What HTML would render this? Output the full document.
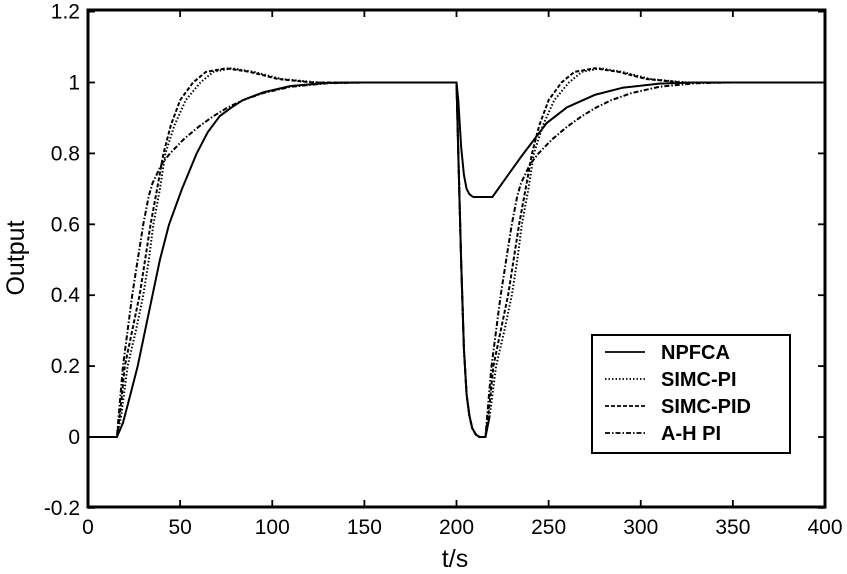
<!DOCTYPE html>
<html><head><meta charset="utf-8"><style>
body{margin:0;background:#fff;}
svg{display:block;font-family:"Liberation Sans",Arial,sans-serif;}
</style></head><body>
<svg id="s" width="847" height="574" viewBox="0 0 847 574" xmlns="http://www.w3.org/2000/svg">
<rect width="847" height="574" fill="#fff"/>
<g id="curves" fill="none" stroke="#000" stroke-width="2" stroke-linejoin="round"></g>
<rect x="88" y="10" width="737" height="497" fill="none" stroke="#000" stroke-width="3"/>
<g id="ticks" stroke="#000" stroke-width="1.8"></g>
<g font-size="21" fill="#000" id="lab"></g>
<text x="455" y="567" font-size="25" text-anchor="middle">t/s</text>
<text transform="translate(24,258) rotate(-90)" font-size="25" text-anchor="middle">Output</text>
<g>
<rect x="592" y="335" width="198" height="118" fill="#fff" stroke="#000" stroke-width="2"/>
<g stroke="#000" stroke-width="1.8">
<line x1="605" y1="352" x2="645" y2="352"/>
<line x1="605" y1="379" x2="645" y2="379" stroke-dasharray="1.5,2"/>
<line x1="605" y1="406" x2="645" y2="406" stroke-dasharray="4,2"/>
<line x1="605" y1="433" x2="645" y2="433" stroke-dasharray="5,2,1.5,2"/>
</g>
<g font-size="20" font-weight="bold">
<text x="661" y="359">NPFCA</text>
<text x="661" y="386">SIMC-PI</text>
<text x="661" y="413">SIMC-PID</text>
<text x="661" y="440">A-H PI</text>
</g>
</g>
</svg>
<script>
var X=function(t){return 88+t*737/400;},Y=function(v){return 437-v*354.5;};
function shift(p,d){return p.map(function(a){return [a[0]+d,a[1]];});}
function path(pts){return pts.map(function(p,i){return (i?'L':'M')+X(p[0]).toFixed(1)+','+Y(p[1]).toFixed(1);}).join('');}
var npf=[[0,0],[15.7,0],[19,0.04],[23,0.12],[27,0.2],[31,0.3],[35,0.4],[39,0.5],[44,0.6],[51,0.7],[59,0.8],[65,0.86],[71.5,0.905],[78,0.93],[84,0.95],[95,0.972],[110,0.99],[130,0.999],[150,1],[200,1],[201,0.95],[202.5,0.82],[204,0.74],[205.5,0.7],[207,0.685],[209,0.677],[219.5,0.677],[224,0.71],[235,0.79],[249,0.886],[260,0.93],[275,0.965],[290,0.985],[310,0.997],[330,1],[400,1]];
var pi=[[15.7,0],[18,0.06],[21.5,0.2],[26,0.3],[30,0.4],[33,0.5],[35.5,0.6],[39,0.7],[42,0.8],[47,0.88],[53,0.95],[61,1.0],[68,1.03],[78,1.04],[90,1.03],[105,1.01],[125,1.0],[200,1]];
var pid=[[15.7,0],[17.5,0.07],[20,0.2],[24,0.3],[28,0.4],[31,0.5],[34,0.6],[37.5,0.7],[41,0.8],[45,0.88],[50,0.95],[57,1.0],[64,1.03],[75,1.04],[88,1.03],[103,1.01],[122,1.0],[200,1]];
var ah=[[15.7,0],[17,0.08],[19,0.2],[21.5,0.3],[24,0.4],[27,0.5],[30,0.6],[33,0.68],[35,0.716],[40,0.77],[44.5,0.8],[52,0.84],[60,0.875],[68,0.905],[76,0.93],[84,0.95],[95,0.97],[110,0.988],[130,0.998],[150,1],[200,1]];
var pre=[[200,1],[201,0.8],[202.5,0.5],[204,0.25],[205.5,0.12],[207,0.06],[208.5,0.025],[210.5,0.007],[212.5,0],[214.5,0],[215.7,0]];
function dip(c){return [[0,0]].concat(c).concat(pre.slice(1)).concat(shift(c,200).slice(1)).concat([[400,1]]);}
var g=document.getElementById('curves');
function add(d,da){var p=document.createElementNS('http://www.w3.org/2000/svg','path');p.setAttribute('d',d);if(da)p.setAttribute('stroke-dasharray',da);g.appendChild(p);}
add(path(npf));
add(path(dip(pi)),'1.5,2');
add(path(dip(pid)),'4,2');
add(path(dip(ah)),'5,2,1.5,2');
add(path(pre.concat([[216.5,0.02],[218,0.06]])));
var tk=document.getElementById('ticks'),lb=document.getElementById('lab');
function ln(x1,y1,x2,y2){var l=document.createElementNS('http://www.w3.org/2000/svg','line');l.setAttribute('x1',x1);l.setAttribute('y1',y1);l.setAttribute('x2',x2);l.setAttribute('y2',y2);tk.appendChild(l);}
function tx(x,y,s,a){var t=document.createElementNS('http://www.w3.org/2000/svg','text');t.setAttribute('x',x);t.setAttribute('y',y);t.setAttribute('text-anchor',a);t.textContent=s;lb.appendChild(t);}
for(var t=0;t<=400;t+=50){var x=X(t);ln(x,507,x,500);ln(x,10,x,17);tx(x,534,String(t),'middle');}
var yl=['-0.2','0','0.2','0.4','0.6','0.8','1','1.2'];
for(var i=0;i<8;i++){var v=-0.2+i*0.2,y=Y(v);ln(88,y,95,y);ln(825,y,818,y);tx(80,y+7,yl[i],'end');}
</script>
</body></html>
